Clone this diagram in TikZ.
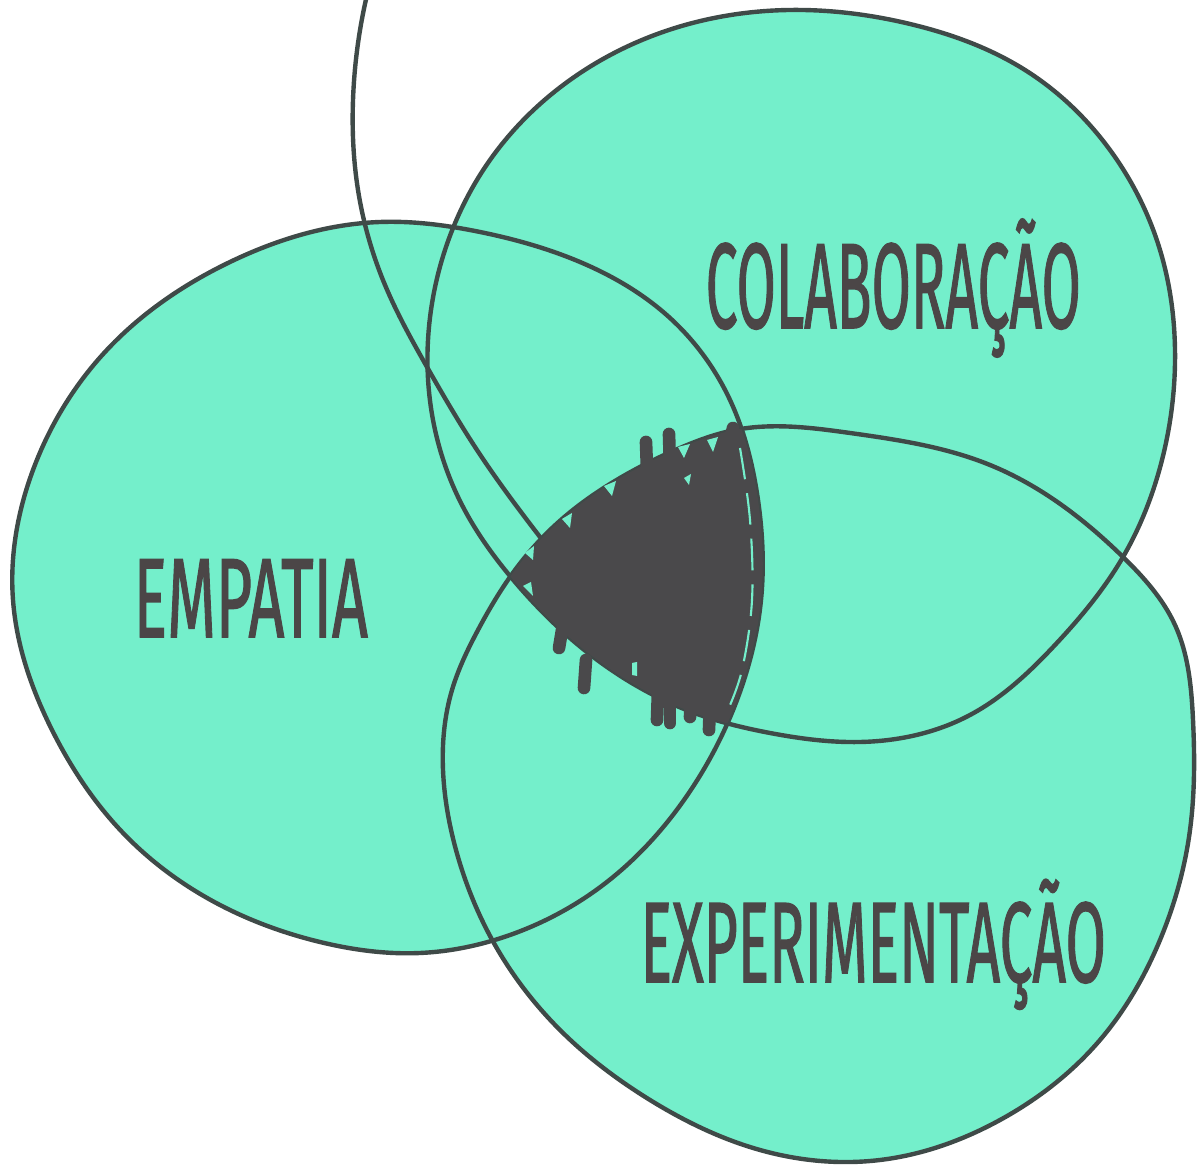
\documentclass[tikz,border=0pt]{standalone}
\usepackage{fontspec}
\usepackage{graphicx}
\usetikzlibrary{hobby}
\newfontfamily\handfont[FakeBold=1.4]{Fira Sans}
\definecolor{mint}{HTML}{74EFCB}
\definecolor{outl}{HTML}{3F4A48}
\definecolor{darkfill}{HTML}{4A494B}
\definecolor{txt}{HTML}{4B4647}
\newcommand\pathEMP{plot[closed hobby] coordinates {(380,222) (480,232) (580,262) (670,318) (730,400) (758,500) (761,600) (737,700) (684,800) (603,885) (510,935) (420,953) (320,942) (220,905) (125,835) (52,730) (13,600) (33,470) (105,352) (230,262)}}
\newcommand\pathCOL{plot[closed hobby] coordinates {(790,10) (910,24) (1025,70) (1110,150) (1160,250) (1175,350) (1162,460) (1123,557) (1055,645) (970,715) (860,742) (770,733) (700,715) (600,662) (515,582) (462,505) (433,420) (428,340) (445,250) (490,160) (570,80) (675,28)}}
\newcommand\pathEXP{plot[closed hobby] coordinates {(735,430) (850,433) (990,465) (1123,557) (1175,625) (1193,720) (1190,830) (1160,940) (1100,1040) (1000,1120) (880,1160) (760,1150) (650,1100) (560,1030) (495,945) (456,850) (443,770) (452,690) (478,630) (510,577) (550,530) (620,478) (680,448)}}
\tikzset{
  outline/.style={draw=outl, line width=1.25pt},
  scrib/.style={draw=darkfill, line width=3.6pt, line cap=round},
  hole/.style={fill=mint},
  lbl/.style={inner sep=0pt, text=txt, anchor=base west, font=\handfont}
}
\begin{document}
\begin{tikzpicture}[x=0.01cm, y=-0.01cm]
\useasboundingbox (0,0) rectangle (1197,1165);
% fills
\fill[mint] \pathEMP;
\fill[mint] \pathCOL;
\fill[mint] \pathEXP;
% outlines
\draw[outline] \pathEMP;
\draw[outline] \pathCOL;
\draw[outline] \pathEXP;
% tail
\draw[outline] plot[hobby] coordinates {(367,-5) (353,100) (358,190) (385,285) (427,367) (477,450) (540,537) (590,600)};
% dark centre
\begin{scope}
  \clip \pathEMP;
  \clip \pathCOL;
  \fill[darkfill] \pathEXP;
\end{scope}
% scribbles
\draw[scrib] (647,470) -- (646,442);
\draw[scrib] (670,468) -- (669,434);
\draw[scrib] (728,450) -- (733,428);
\draw[scrib] (586,660) -- (584,688);
\draw[scrib] (562,630) -- (559,648);
\draw[scrib] (658,690) -- (657,720);
\draw[scrib] (670,695) -- (670,723);
\draw[scrib] (691,700) -- (690,717);
\draw[scrib] (710,700) -- (709,730);
% holes
\fill[hole] (678,447) -- (690,444) -- (684,458) -- cycle;
\fill[hole] (707,440) -- (718,437) -- (713,452) -- cycle;
\fill[hole] (604,486) -- (616,481) -- (612,496) -- cycle;
\fill[hole] (562,519) -- (572,513) -- (570,528) -- cycle;
\fill[hole] (525,553) -- (534,546) -- (533,560) -- cycle;
\fill[hole] (523,586) -- (531,582) -- (533,596) -- cycle;
\fill[hole] (684,478) -- (691,474) -- (689,485) -- cycle;
\fill[hole] (632,663) -- (637,662) -- (637,676) -- (632,675) -- cycle;
\draw[mint, line width=0.6pt, dash pattern=on 9pt off 4pt] plot[smooth, tension=0.6] coordinates {(740,448) (750,520) (752,600) (742,670) (727,712)};
% labels
\node[lbl] (empatia) at (133,637) {\fontsize{32}{32}\selectfont\resizebox{2.34cm}{\height}{EMPATIA}};
\node[lbl] (colab) at (705,328) {\fontsize{34.5}{34.5}\selectfont\resizebox{3.75cm}{\height}{COLABORAÇÃO}};
\node[lbl] (exper) at (640,982) {\fontsize{32.5}{32.5}\selectfont\resizebox{4.65cm}{\height}{EXPERIMENTAÇÃO}};
\end{tikzpicture}
\end{document}
